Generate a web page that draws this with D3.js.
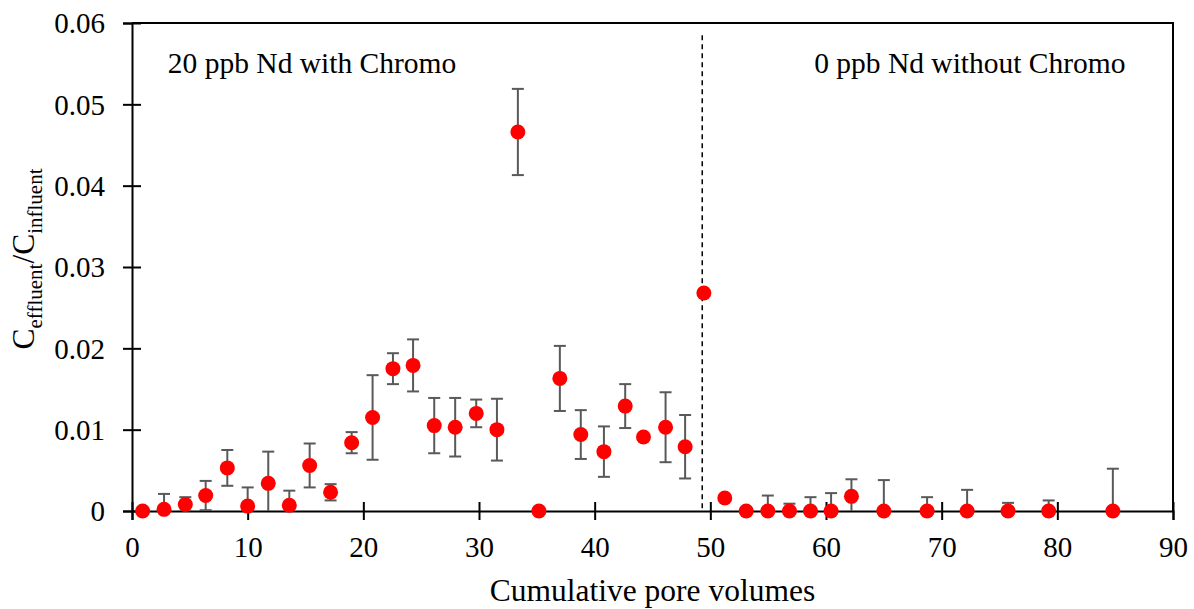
<!DOCTYPE html>
<html>
<head>
<meta charset="utf-8">
<title>Nd breakthrough</title>
<script src="https://cdn.jsdelivr.net/npm/d3@7"></script>
<style>
  body { margin: 0; background: #fff; }
</style>
</head>
<body>
<svg id="chart" width="1194" height="609"></svg>
<script>

// cumulative pore volumes, Ceffluent/Cinfluent, +/- error
var poreVolumes = [0.92, 2.77, 4.61, 6.37, 8.24, 10.0, 11.78, 13.6, 15.36, 17.17,
  18.99, 20.8, 22.56, 24.3, 26.13, 27.94, 29.76, 31.55, 33.36, 35.18,
  36.99, 38.8, 40.8, 42.64, 44.22, 46.13, 47.82, 49.44, 51.25, 53.1,
  54.97, 56.84, 58.66, 60.44, 62.2, 65.0, 68.74, 72.2, 75.74, 79.25, 84.8];
var ratio = [0, 0.0002, 0.0008, 0.0019, 0.0053, 0.0006, 0.0034, 0.0007, 0.0056, 0.0023,
  0.0084, 0.0115, 0.0175, 0.0179, 0.0105, 0.0103, 0.0120, 0.0100, 0.0466, 0,
  0.0163, 0.0094, 0.0073, 0.0129, 0.0091, 0.0103, 0.0079, 0.0268, 0.0016, 0,
  0, 0, 0, 0, 0.0018, 0, 0, 0, 0, 0, 0];
var errors = [0, 0.0019, 0.0009, 0.0018, 0.0022, 0.0023, 0.0039, 0.0018, 0.0027, 0.0010,
  0.0013, 0.0052, 0.0019, 0.0032, 0.0034, 0.0036, 0.0017, 0.0038, 0.0053, 0,
  0.0040, 0.0030, 0.0031, 0.0027, 0, 0.0043, 0.0039, 0, 0, 0,
  0.0019, 0.0009, 0.0017, 0.0022, 0.0021, 0.0038, 0.0017, 0.0026, 0.0010, 0.0013, 0.0052];

var xTicks = [0, 10, 20, 30, 40, 50, 60, 70, 80, 90];
var yTicks = [0, 0.01, 0.02, 0.03, 0.04, 0.05, 0.06];
var yTickLabels = ["0", "0.01", "0.02", "0.03", "0.04", "0.05", "0.06"];
var switchPV = 49.3;
var phaseLabels = ["20 ppb Nd with Chromo", "0 ppb Nd without Chromo"];

var font = "Liberation Serif";
var margin = {top: 23, right: 21, bottom: 98, left: 132};
var width = 1194 - margin.left - margin.right,
    height = 609 - margin.top - margin.bottom;

var svg = d3.select("#chart");
var g = svg.append("g").attr("transform", "translate(" + margin.left + "," + margin.top + ")");

var x = d3.scaleLinear().domain([0, 90]).range([0, width]);
var y = d3.scaleLinear().domain([0, 0.06]).range([height, 0]);

var data = poreVolumes.map(function (d, i) {
  return {pv: d, c: ratio[i], e: errors[i]};
});

svg.append("clipPath").attr("id", "plotclip")
  .append("rect").attr("x", 0).attr("y", 0).attr("width", width).attr("height", height);

// frame
g.append("path")
  .attr("d", "M0,0H" + width + "V" + height)
  .attr("fill", "none").attr("stroke", "#000").attr("stroke-width", 2);

// axes with crossing ticks
var xAxis = g.append("g").attr("transform", "translate(0," + height + ")")
  .call(d3.axisBottom(x).tickValues(xTicks).tickSize(9).tickPadding(16).tickFormat(d3.format("d")));
xAxis.selectAll(".tick line").attr("y1", -9);
var yAxis = g.append("g")
  .call(d3.axisLeft(y).tickValues(yTicks).tickSize(9).tickPadding(18)
    .tickFormat(function (d, i) { return yTickLabels[i]; }));
yAxis.selectAll(".tick line").attr("x1", 9);

[xAxis, yAxis].forEach(function (a) {
  a.attr("font-family", font);
  a.select(".domain").attr("stroke", "#000").attr("stroke-width", 2);
  a.selectAll(".tick line").attr("stroke", "#000").attr("stroke-width", 2);
  a.selectAll(".tick text").attr("font-size", 29).attr("fill", "#000");
});
yAxis.selectAll(".tick text").attr("dy", "0.34em");

// divider between the two phases
g.append("line")
  .attr("x1", x(switchPV)).attr("x2", x(switchPV))
  .attr("y1", y(0.0585)).attr("y2", y(0))
  .attr("stroke", "#000").attr("stroke-width", 1.5).attr("stroke-dasharray", "5,4");

g.append("text").attr("x", x(3.1)).attr("y", y(0.0539))
  .attr("font-family", font).attr("font-size", 29.5).text(phaseLabels[0]);
g.append("text").attr("x", x(85.9)).attr("y", y(0.0539))
  .attr("font-family", font).attr("text-anchor", "end").attr("font-size", 29.5).text(phaseLabels[1]);

// error bars
var bars = g.append("g").attr("clip-path", "url(#plotclip)")
  .selectAll("g").data(data.filter(function (d) { return d.e > 0; }))
  .enter().append("g")
  .attr("stroke", "#595959").attr("stroke-width", 2);
bars.append("line")
  .attr("x1", d => x(d.pv)).attr("x2", d => x(d.pv))
  .attr("y1", d => y(d.c + d.e)).attr("y2", d => y(d.c - d.e));
bars.append("line")
  .attr("x1", d => x(d.pv) - 6).attr("x2", d => x(d.pv) + 6)
  .attr("y1", d => y(d.c + d.e)).attr("y2", d => y(d.c + d.e));
bars.append("line")
  .attr("x1", d => x(d.pv) - 6).attr("x2", d => x(d.pv) + 6)
  .attr("y1", d => y(d.c - d.e)).attr("y2", d => y(d.c - d.e));

g.append("g").selectAll("circle")
  .data(data).enter().append("circle")
  .attr("cx", d => x(d.pv))
  .attr("cy", d => y(d.c))
  .attr("r", 7.5)
  .attr("fill", "#ff0000");

// axis titles
svg.append("text")
  .attr("x", margin.left + width / 2).attr("y", 601)
  .attr("font-family", font).attr("text-anchor", "middle").attr("font-size", 31.5)
  .text("Cumulative pore volumes");

var yt = svg.append("text")
  .attr("transform", "translate(34," + (margin.top + height / 2 - 8) + ") rotate(-90)")
  .attr("font-family", font).attr("text-anchor", "middle").attr("font-size", 31.5);
yt.append("tspan").text("C");
yt.append("tspan").attr("font-size", 21).attr("dy", 8).text("effluent");
yt.append("tspan").attr("dy", -8).text("/C");
yt.append("tspan").attr("font-size", 21).attr("dy", 8).text("influent");

</script>
</body>
</html>
